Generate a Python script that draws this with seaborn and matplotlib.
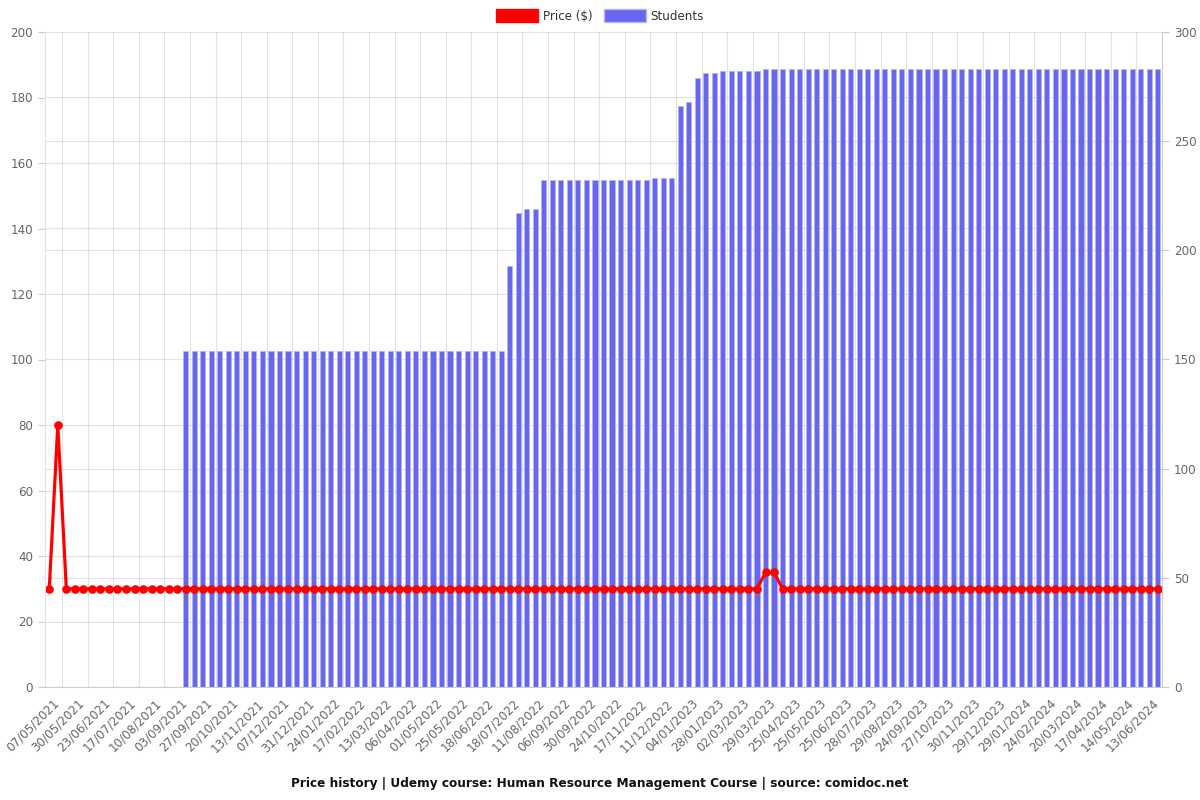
import matplotlib
matplotlib.use("Agg")
import matplotlib.pyplot as plt
import matplotlib.transforms as mtrans
from matplotlib.patches import Patch
import numpy as np
import pandas as pd
import seaborn as sns

# ---------------- data ----------------
tick_dates = ["07/05/2021", "30/05/2021", "23/06/2021", "17/07/2021", "10/08/2021",
              "03/09/2021", "27/09/2021", "20/10/2021", "13/11/2021", "07/12/2021",
              "31/12/2021", "24/01/2022", "17/02/2022", "13/03/2022", "06/04/2022",
              "01/05/2022", "25/05/2022", "18/06/2022", "18/07/2022", "11/08/2022",
              "06/09/2022", "30/09/2022", "24/10/2022", "17/11/2022", "11/12/2022",
              "04/01/2023", "28/01/2023", "02/03/2023", "29/03/2023", "25/04/2023",
              "25/05/2023", "25/06/2023", "28/07/2023", "29/08/2023", "24/09/2023",
              "27/10/2023", "30/11/2023", "29/12/2023", "29/01/2024", "24/02/2024",
              "20/03/2024", "17/04/2024", "14/05/2024", "13/06/2024"]

price = [29.99, 79.99] + [29.99] * 82 + [34.99, 34.99] + [29.99] * 45

students = ([0] * 16 + [154] * 38 + [193] + [217] + [219] * 2 + [232] * 13 +
            [233] * 3 + [266] + [268] + [279] + [281] * 2 + [282] * 5 + [283] * 47)

n = len(price)
idx = list(range(n))
df = pd.DataFrame({"idx": idx, "price": price, "students": students})

bar_color = "#6666ee"
bar_edge = "#b4b4f6"
text_color = "#666666"

# ---------------- figure ----------------
sns.set_theme(style="white")
plt.rcParams["font.family"] = ["DejaVu Sans"]

fig = plt.figure(figsize=(12, 8), dpi=100)
ax = fig.add_axes([45 / 1200, 113 / 800, 1117 / 1200, 655 / 800])
ax2 = ax.twinx()
ax.set_zorder(2)
ax2.set_zorder(1)
ax.patch.set_visible(False)

sns.barplot(data=df[df["students"] > 0], x="idx", y="students", native_scale=True,
            width=0.6, color=bar_color, saturation=1, edgecolor=bar_edge,
            linewidth=0.6, ax=ax2)

sns.lineplot(data=df, x="idx", y="price", ax=ax, color="red", linewidth=2.3,
             marker="o", markersize=6.2, markeredgewidth=0, legend=False)

ax.set_xlim(-0.5, n - 0.5)
ax.set_ylim(0, 200)
ax2.set_ylim(0, 300)
ax.set_xlabel("")
ax.set_ylabel("")
ax2.set_xlabel("")
ax2.set_ylabel("")

# x ticks: labels every third category, tick marks / grid between
ax.set_xticks(np.arange(0, n, 3))
ax.set_xticklabels(tick_dates)
ax.set_xticks(np.arange(1.5, n, 3), minor=True)
ax.tick_params(axis="x", which="major", length=0, labelsize=8.6,
               labelcolor=text_color, pad=7)
ax.tick_params(axis="x", which="minor", length=5, color="#cccccc", width=0.8)
offset = mtrans.ScaledTranslation(0.03, 0, fig.dpi_scale_trans)
for lbl in ax.get_xticklabels():
    lbl.set_rotation(45)
    lbl.set_ha("right")
    lbl.set_rotation_mode("anchor")
    lbl.set_transform(lbl.get_transform() + offset)

ax.set_yticks(np.arange(0, 201, 20))
ax.tick_params(axis="y", which="major", length=5, color="#cccccc", width=0.8,
               labelsize=8.6, labelcolor=text_color, left=True)
ax.grid(False)

ax2.set_yticks(np.arange(0, 301, 50))
ax2.set_yticks(np.arange(0, 201, 20) * 300 / 200, minor=True)
ax2.tick_params(axis="y", which="major", length=5, color="#cccccc", width=0.8,
                labelsize=8.6, labelcolor=text_color, right=True)
ax2.tick_params(axis="y", which="minor", length=0)
ax2.xaxis.set_visible(True)
ax2.tick_params(axis="x", which="both", bottom=False, top=False,
                labelbottom=False, labeltop=False, length=0)
ax2.grid(True, which="both", axis="y", color="black", alpha=0.11, linewidth=0.8)
ax2.grid(True, which="minor", axis="x", color="black", alpha=0.11, linewidth=0.8)
ax2.grid(False, which="major", axis="x")
ax2.set_axisbelow(True)

for s in ax2.spines.values():
    s.set_visible(False)
ax.spines["top"].set_visible(False)
ax.spines["left"].set_color("#e2e2e2")
ax.spines["right"].set_color("#cccccc")
ax.spines["bottom"].set_color("#cccccc")
for s in ("left", "right", "bottom"):
    ax.spines[s].set_linewidth(0.8)

handles = [Patch(facecolor="red", edgecolor="red"),
           Patch(facecolor=bar_color, edgecolor=bar_edge)]
fig.legend(handles=handles, labels=["Price ($)", "Students"], loc="center",
           bbox_to_anchor=(0.5, 1 - 16 / 800), ncol=2, frameon=False,
           fontsize=8.6, handlelength=3.5, handleheight=1.2, columnspacing=1.0,
           handletextpad=0.4, labelcolor="#333333")

fig.text(0.5, 1 - 783 / 800,
         "Price history | Udemy course: Human Resource Management Course | source: comidoc.net",
         ha="center", va="center", fontweight="bold", fontsize=8.7, color="#111111")

fig.savefig("out.png", dpi=100, facecolor="white")
